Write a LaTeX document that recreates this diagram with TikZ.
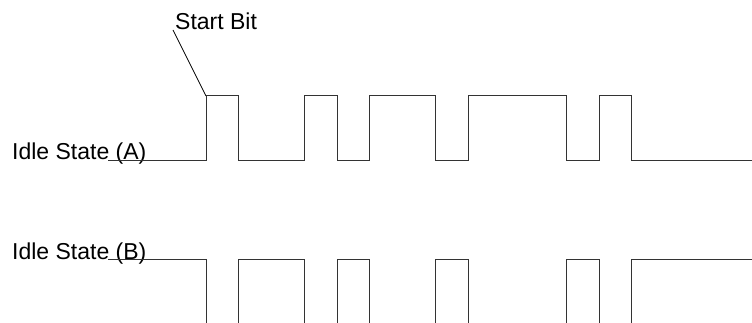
\documentclass[tikz,border=0pt]{standalone}
\usepackage{fontspec}
\setmainfont{Liberation Sans}
\begin{document}
\begin{tikzpicture}[x=1pt,y=-1pt,
  lbl/.style={anchor=base west,inner sep=0pt,font=\fontsize{23}{27}\selectfont},
  sig/.style={line width=1pt,draw=black!80,line join=miter}]
\useasboundingbox (0,0) rectangle (752,323);
% labels
\node[lbl] (sb) at (175,30) {Start Bit};
\node[lbl] (ia) at (12,160) {Idle State (A)};
\node[lbl] (ib) at (12,259) {Idle State (B)};
% leader
\coordinate (lead) at (173,30);
\coordinate (sbc) at (206,96);
\draw[line width=0.7pt] (lead) -- (sbc);
% signal A
\draw[sig] (108,161) -- (206,161) -- (sbc) -- (238,96) -- (238,161) -- (304,161) -- (304,96) -- (337,96) -- (337,161) -- (369,161) -- (369,96) -- (435,96) -- (435,161) -- (468,161) -- (468,96) -- (566,96) -- (566,161) -- (599,161) -- (599,96) -- (631,96) -- (631,161) -- (752,161);
% signal B
\draw[sig] (108,259) -- (206,259) -- (206,323);
\draw[sig] (238,323) -- (238,259) -- (304,259) -- (304,323);
\draw[sig] (337,323) -- (337,259) -- (369,259) -- (369,323);
\draw[sig] (435,323) -- (435,259) -- (468,259) -- (468,323);
\draw[sig] (566,323) -- (566,259) -- (599,259) -- (599,323);
\draw[sig] (631,323) -- (631,259) -- (752,259);
\end{tikzpicture}
\end{document}
